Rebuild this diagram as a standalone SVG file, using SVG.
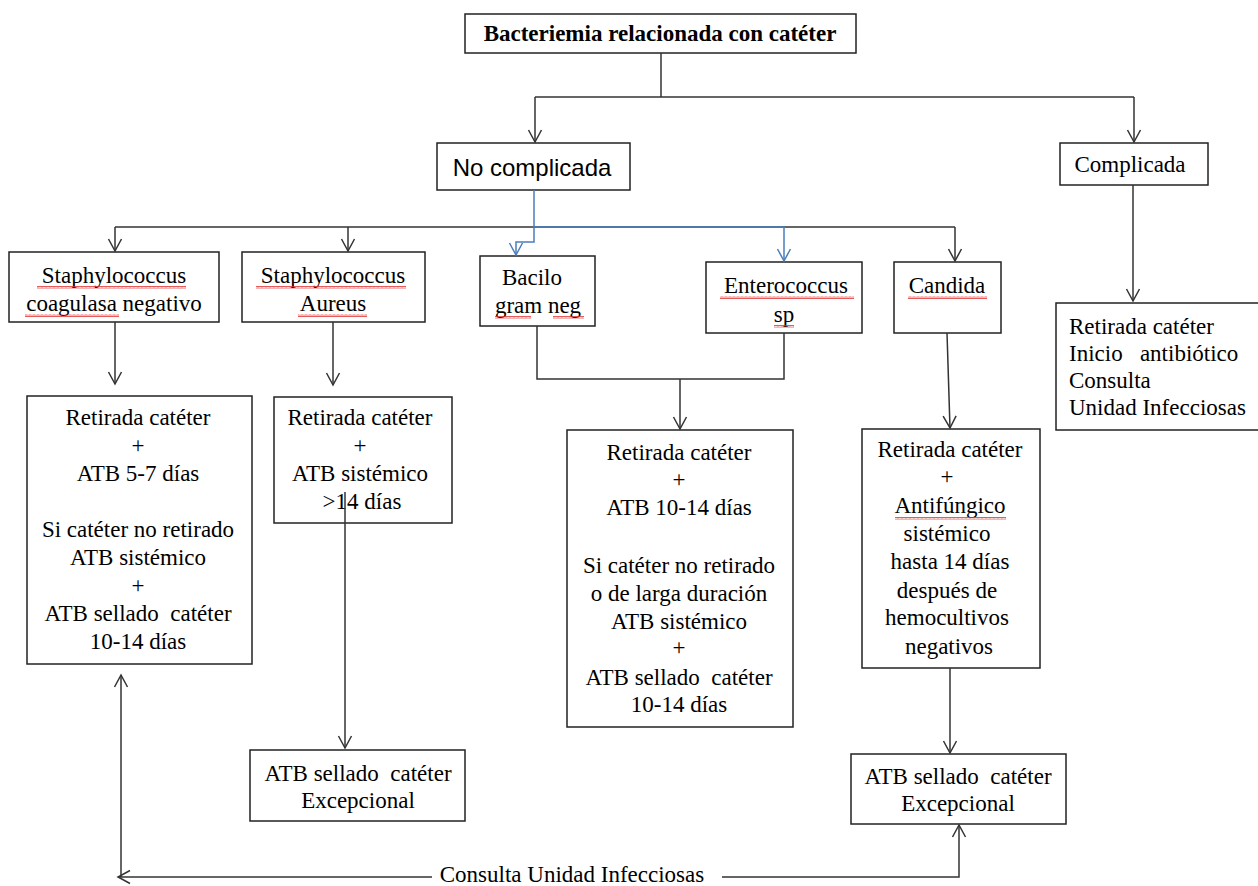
<svg xmlns="http://www.w3.org/2000/svg" width="1258" height="886" viewBox="0 0 1258 886">
<defs>
<style>
.box{fill:#fff;stroke:#222;stroke-width:1.5}
.t{font-family:"Liberation Serif","Times New Roman",serif;font-size:23px;fill:#000;text-anchor:middle;white-space:pre}
.tl{text-anchor:start}
.b{font-weight:bold;font-size:23px}
.s{font-family:"Liberation Sans",Arial,sans-serif;font-size:24px}
.c{fill:none;stroke:#333;stroke-width:1.5}
.blue{stroke:#4a7ebb}
.sq{fill:url(#squig)}
</style>
<marker id="ar" viewBox="-13 -8 15 16" refX="0" refY="0" markerWidth="15" markerHeight="16" markerUnits="userSpaceOnUse" orient="auto">
<path d="M-12,-6.5 L0,0 L-12,6.5" fill="none" stroke="#333" stroke-width="1.5"/>
</marker>
<marker id="arb" viewBox="-13 -8 15 16" refX="0" refY="0" markerWidth="15" markerHeight="16" markerUnits="userSpaceOnUse" orient="auto">
<path d="M-12,-6.5 L0,0 L-12,6.5" fill="none" stroke="#4a7ebb" stroke-width="1.5"/>
</marker>
<pattern id="squig" x="0" y="0" width="4" height="3" patternUnits="userSpaceOnUse">
<path d="M0,2.5 L1,0.5 L2,2.5 L3,0.5 L4,2.5" fill="none" stroke="#e03030" stroke-width="0.8"/>
</pattern>
</defs>

<g id="n-root">
<rect class="box" x="465" y="14" width="391" height="39"/>
<text class="t b" x="660" y="41">Bacteriemia relacionada con catéter</text>
</g>

<g id="n-nocomp">
<rect class="box" x="437" y="143" width="193" height="47"/>
<text class="t s" x="532" y="176">No complicada</text>
</g>

<g id="n-comp">
<rect class="box" x="1060" y="143" width="148" height="42"/>
<text class="t" x="1130" y="172">Complicada</text>
</g>

<g id="n-comp-res">
<rect class="box" x="1056" y="303" width="205" height="127"/>
<text class="t tl" x="1069" y="334">Retirada catéter</text>
<text class="t tl" x="1069" y="361">Inicio   antibiótico</text>
<text class="t tl" x="1069" y="388">Consulta</text>
<text class="t tl" x="1069" y="415">Unidad Infecciosas</text>
</g>

<g id="n-scn">
<rect class="box" x="9" y="252" width="210" height="70"/>
<text class="t" x="114" y="283">Staphylococcus</text>
<text class="t" x="114" y="311">coagulasa negativo</text>
<rect class="sq" x="37" y="286" width="149" height="3"/>
<rect class="sq" x="25" y="314" width="94" height="3"/>
</g>

<g id="n-sa">
<rect class="box" x="242" y="252" width="183" height="70"/>
<text class="t" x="333" y="283">Staphylococcus</text>
<text class="t" x="333" y="311">Aureus</text>
<rect class="sq" x="256" y="286" width="150" height="3"/>
<rect class="sq" x="298" y="314" width="69" height="3"/>
</g>

<g id="n-bgn">
<rect class="box" x="480" y="256" width="115" height="70"/>
<text class="t" x="532" y="285">Bacilo</text>
<text class="t" x="538" y="313">gram neg</text>
<rect class="sq" x="495" y="316" width="36" height="3"/>
<rect class="sq" x="553" y="316" width="31" height="3"/>
</g>

<g id="n-ent">
<rect class="box" x="706" y="262" width="156" height="71"/>
<text class="t" x="786" y="293">Enterococcus</text>
<text class="t" x="784" y="322">sp</text>
<rect class="sq" x="720" y="296" width="134" height="3"/>
<rect class="sq" x="774" y="325" width="20" height="3"/>
</g>

<g id="n-can">
<rect class="box" x="894" y="262" width="107" height="71"/>
<text class="t" x="947" y="293">Candida</text>
<rect class="sq" x="908" y="296" width="79" height="3"/>
</g>

<g id="n-scn-tx">
<rect class="box" x="27" y="396" width="225" height="268"/>
<text class="t" x="138" y="425">Retirada catéter</text>
<text class="t" x="138" y="453">+</text>
<text class="t" x="138" y="481">ATB 5-7 días</text>
<text class="t" x="138" y="537">Si catéter no retirado</text>
<text class="t" x="138" y="565">ATB sistémico</text>
<text class="t" x="138" y="593">+</text>
<text class="t" x="138" y="621">ATB sellado  catéter</text>
<text class="t" x="138" y="649">10-14 días</text>
</g>

<g id="n-sa-tx">
<rect class="box" x="274" y="397" width="178" height="126"/>
<text class="t" x="360" y="425">Retirada catéter</text>
<text class="t" x="360" y="453">+</text>
<text class="t" x="360" y="481">ATB sistémico</text>
<text class="t" x="362" y="509">&gt;14 días</text>
</g>

<g id="n-sa-lock">
<rect class="box" x="250" y="750" width="215" height="71"/>
<text class="t" x="358" y="781">ATB sellado  catéter</text>
<text class="t" x="358" y="808">Excepcional</text>
</g>

<g id="n-bgn-tx">
<rect class="box" x="567" y="430" width="226" height="297"/>
<text class="t" x="679" y="460">Retirada catéter</text>
<text class="t" x="679" y="487">+</text>
<text class="t" x="679" y="515">ATB 10-14 días</text>
<text class="t" x="679" y="573">Si catéter no retirado</text>
<text class="t" x="679" y="601">o de larga duración</text>
<text class="t" x="679" y="629">ATB sistémico</text>
<text class="t" x="679" y="655">+</text>
<text class="t" x="679" y="685">ATB sellado  catéter</text>
<text class="t" x="679" y="712">10-14 días</text>
</g>

<g id="n-can-tx">
<rect class="box" x="862" y="429" width="178" height="239"/>
<text class="t" x="950" y="457">Retirada catéter</text>
<text class="t" x="947" y="484">+</text>
<text class="t" x="950" y="513">Antifúngico</text>
<text class="t" x="947" y="541">sistémico</text>
<text class="t" x="950" y="569">hasta 14 días</text>
<text class="t" x="947" y="598">después de</text>
<text class="t" x="947" y="625">hemocultivos</text>
<text class="t" x="949" y="654">negativos</text>
<rect class="sq" x="895" y="517" width="111" height="3"/>
</g>

<g id="n-can-lock">
<rect class="box" x="851" y="754" width="215" height="70"/>
<text class="t" x="958" y="784">ATB sellado  catéter</text>
<text class="t" x="958" y="811">Excepcional</text>
</g>

<g id="n-consulta">
<text class="t" x="572" y="882">Consulta Unidad Infecciosas</text>
</g>

<g id="connectors">
<path class="c" d="M661,53 V97"/>
<path class="c" d="M535,97 H1134"/>
<path class="c" d="M535,97 V142" marker-end="url(#ar)"/>
<path class="c" d="M1134,97 V142" marker-end="url(#ar)"/>
<path class="c" d="M1133,185 V301" marker-end="url(#ar)"/>
<path class="c" d="M115,227 H955"/>
<path class="c" d="M115,227 V251" marker-end="url(#ar)"/>
<path class="c" d="M348,227 V251" marker-end="url(#ar)"/>
<path class="c" d="M955,227 V261" marker-end="url(#ar)"/>
<path class="c blue" d="M534,190 V242 H516 V255" marker-end="url(#arb)"/>
<path class="c blue" d="M534,227 H784 V261" marker-end="url(#arb)"/>
<path class="c" d="M115,322 V384" marker-end="url(#ar)"/>
<path class="c" d="M333,322 V385" marker-end="url(#ar)"/>
<path class="c" d="M345,492 V748" marker-end="url(#ar)"/>
<path class="c" d="M537,326 V379 H784 V333"/>
<path class="c" d="M680,379 V429" marker-end="url(#ar)"/>
<path class="c" d="M947,333 L950,428" marker-end="url(#ar)"/>
<path class="c" d="M950,668 V753" marker-end="url(#ar)"/>
<path class="c" d="M432,877 H118" marker-end="url(#ar)"/>
<path class="c" d="M121,877 V675" marker-end="url(#ar)"/>
<path class="c" d="M722,877 H959 V825" marker-end="url(#ar)"/>
</g>
</svg>
